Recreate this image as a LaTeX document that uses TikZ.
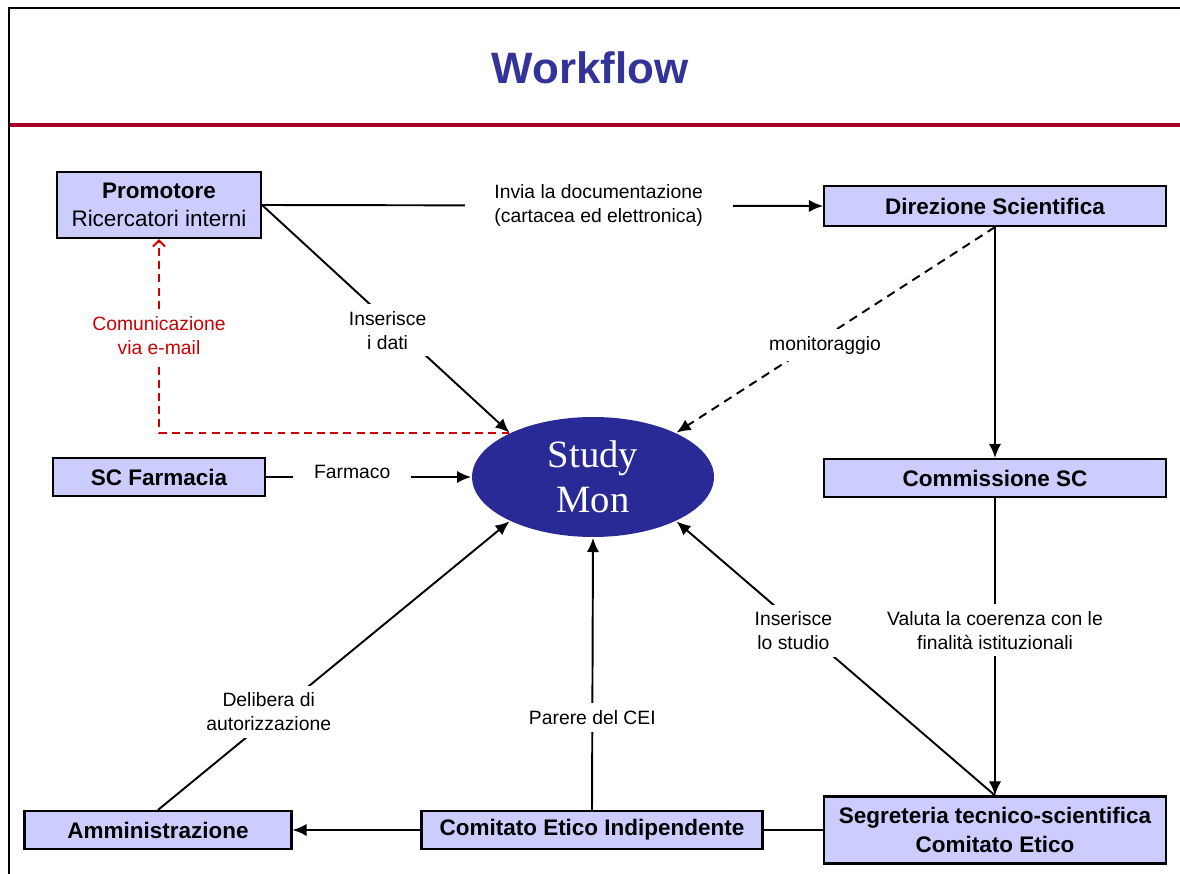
\documentclass[tikz,border=0pt]{standalone}
\usepackage{fontspec}
\setmainfont{Liberation Sans}
\newfontfamily\monfont{Liberation Serif}
\usetikzlibrary{shapes.geometric}
\usetikzlibrary{arrows.meta}

\definecolor{boxfill}{HTML}{CCCCFF}
\definecolor{monblue}{HTML}{2A2A96}
\definecolor{titleblue}{HTML}{333399}
\definecolor{barred}{HTML}{A50021}
\definecolor{mailred}{HTML}{CC0000}

\begin{document}
\begin{tikzpicture}[x=0.02cm,y=-0.02cm,->,>={Latex[length=8pt,width=7pt]},line width=1.1pt,
main node/.style={draw,-,line width=1.2pt,fill=boxfill,align=center,inner sep=0pt,
  font=\fontsize{12.8}{16}\selectfont\bfseries},
mon node/.style={ellipse,fill=monblue,text=white,align=center,inner sep=0pt,
  minimum width=4.84cm,minimum height=2.4cm,font=\monfont\fontsize{22}{25.6}\selectfont},
edge label/.style={fill=white,align=center,inner xsep=12pt,inner ysep=4pt,
  font=\fontsize{11}{13.6}\selectfont}]

\useasboundingbox (0,0) rectangle (1180,874);

% frame and title bar
\draw[-,line width=1.1pt] (9,874) -- (9,8) -- (1180,8);
\draw[-,line width=2.8pt,barred] (10,125) -- (1180,125);
\node[font=\fontsize{25}{30}\selectfont\bfseries,text=titleblue] (title) at (590,68) {Workflow};

\node[main node,minimum width=4.08cm,minimum height=1.32cm] (Prom) at (159,205) {Promotore\\\mdseries Ricercatori interni};
\node[main node,minimum width=6.84cm,minimum height=0.8cm] (DirSc) at (995,206) {Direzione Scientifica};
\node[main node,minimum width=4.24cm,minimum height=0.76cm] (Farm) at (159,477) {SC Farmacia};
\node[main node,minimum width=6.84cm,minimum height=0.76cm] (CommSC) at (995,478) {Commissione SC};
\node[main node,minimum width=5.34cm,minimum height=0.76cm] (Amm) at (158,830) {Amministrazione};
\node[main node,minimum width=6.82cm,minimum height=0.76cm] (CEI) at (592,830) {Comitato Etico Indipendente};
\node[main node,minimum width=6.84cm,minimum height=1.34cm] (Segr) at (995,830) {Segreteria tecnico-scientifica\\Comitato Etico};
\node[mon node] (Mon) at (593,477) {Study\\Mon};

\path[every node/.style={edge label}]
(Prom.east) edge node[pos=0.6,inner xsep=17pt] {Invia la documentazione\\(cartacea ed elettronica)} (DirSc.west)
(Prom.east) edge node[pos=0.55,xshift=-6pt] {Inserisce\\i dati} (Mon.152)
(Farm.east) edge node[pos=0.42,yshift=3pt] {Farmaco} (Mon.west)
(DirSc.south) edge[dash pattern=on 5pt off 3.5pt] node[pos=0.55,xshift=3pt,yshift=-3pt] {monitoraggio} (Mon.28)
(DirSc.south) edge (CommSC.north)
(CommSC.south) edge node[pos=0.445] {Valuta la coerenza con le\\finalità istituzionali} (Segr.north)
(Segr.north) edge node[pos=0.6,xshift=-6pt] {Inserisce\\lo studio} (Mon.332)
(Segr.west) edge[-] (CEI.east)
(CEI.west) edge (Amm.east)
(CEI.north) edge node[pos=0.34] {Parere del CEI} (Mon.south)
(Amm.north) edge node[pos=0.34,xshift=-5pt] {Delibera di\\autorizzazione} (Mon.208)
;

% e-mail notice back to the promoter
\draw[mailred,dash pattern=on 4.5pt off 3pt,>={Straight Barb[length=3.5pt,width=7pt]}] (Mon.152) -| node[pos=0.75,edge label,text=mailred] {Comunicazione\\via e-mail} (Prom.south);
\end{tikzpicture}
\end{document}
